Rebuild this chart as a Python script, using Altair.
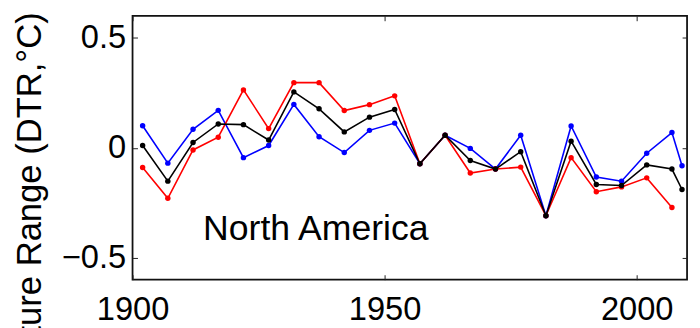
import altair as alt
import pandas as pd

years = [1902, 1907, 1912, 1917, 1922, 1927, 1932, 1937, 1942, 1947, 1952,
         1957, 1962, 1967, 1972, 1977, 1982, 1987, 1992, 1997, 2002, 2007]
years_ext = years + [2009]

blue = [0.10, -0.07, 0.084, 0.17, -0.045, 0.01, 0.197, 0.05, -0.022, 0.079, 0.112,
        -0.073, 0.057, -0.003, -0.097, 0.057, -0.309, 0.099, -0.133, -0.152, -0.025, 0.069, -0.082]
red = [-0.09, -0.23, -0.01, 0.048, 0.263, 0.087, 0.296, 0.296, 0.169, 0.196, 0.236,
       -0.073, 0.057, -0.115, -0.097, -0.088, -0.309, -0.045, -0.20, -0.178, -0.137, -0.272]
black = [0.01, -0.152, 0.024, 0.108, 0.105, 0.035, 0.254, 0.177, 0.072, 0.139, 0.174,
         -0.073, 0.057, -0.058, -0.097, -0.018, -0.309, 0.03, -0.167, -0.172, -0.078, -0.097, -0.19]

series_names = ["blue", "red", "black"]
series_colors = ["#0000ff", "#ff0000", "#000000"]

x_ticks = [1900, 1950, 2000]
y_ticks = [-0.5, 0, 0.5]
x_domain = [1900, 2010]
y_domain = [-0.6, 0.6]

y_title = "Diurnal Temperature Range (DTR,°C)"
region_label = "North America"
label_year = [1914]
label_value = [-0.37]

rows = []
for name, ys, vals in [("blue", years_ext, blue), ("red", years, red), ("black", years_ext, black)]:
    for yr, v in zip(ys, vals):
        rows.append({"series": name, "year": yr, "value": v})
df = pd.DataFrame(rows)

FONT = "Liberation Sans"
FS = 33

x_scale = alt.Scale(domain=x_domain, nice=False, zero=False)
y_scale = alt.Scale(domain=y_domain, nice=False, zero=False)

x_axis = alt.Axis(values=x_ticks, format="d", orient="bottom", offset=-5, tickSize=5,
                  domain=False, grid=False, labelFont=FONT, labelFontSize=FS,
                  labelColor="black", tickColor="#222222", labelPadding=14,
                  labelFlush=False, labelOverlap=False, title=None)
y_axis = alt.Axis(values=y_ticks, orient="left", offset=-5, tickSize=5,
                  domain=False, grid=False, labelFont=FONT, labelFontSize=FS,
                  labelColor="black", tickColor="#222222", labelPadding=7,
                  labelFlush=False, labelOverlap=False,
                  labelExpr="datum.value < 0 ? '\u2212' + format(-datum.value, '~g') : format(datum.value, '~g')",
                  title=y_title, titleFont=FONT, titleFontSize=35, titleFontWeight="normal",
                  titleAngle=270, titleAlign="right", titleBaseline="alphabetic",
                  titleX=-98, titleY=-4, titleColor="black")

x_axis_top = alt.Axis(values=x_ticks, orient="top", offset=-5, tickSize=5, domain=False,
                      grid=False, labels=False, tickColor="#222222", title=None)
y_axis_right = alt.Axis(values=y_ticks, orient="right", offset=-5, tickSize=5, domain=False,
                        grid=False, labels=False, tickColor="#222222", title=None)

layers = []
for name, color in zip(series_names, series_colors):
    sub = df[df.series == name]
    l = alt.Chart(sub).mark_line(strokeWidth=1.6, color=color).encode(
        x=alt.X("year:Q", scale=x_scale, axis=x_axis),
        y=alt.Y("value:Q", scale=y_scale, axis=y_axis),
        order=alt.Order("year:Q"),
    )
    p = alt.Chart(sub).mark_circle(size=30, opacity=1, color=color).encode(
        x=alt.X("year:Q", scale=x_scale),
        y=alt.Y("value:Q", scale=y_scale),
    )
    layers += [l, p]

label_df = pd.DataFrame({"year": label_year, "value": label_value, "text": [region_label]})
label = alt.Chart(label_df).mark_text(font=FONT, fontSize=36, align="left", baseline="middle",
                                      color="black").encode(
    x=alt.X("year:Q", scale=x_scale),
    y=alt.Y("value:Q", scale=y_scale),
    text="text:N",
)

tick_df = pd.DataFrame({"year": [x_domain[0]], "value": [y_domain[0]]})
frame_axes = alt.Chart(tick_df).mark_point(opacity=0).encode(
    x=alt.X("year:Q", scale=x_scale, axis=x_axis_top),
    y=alt.Y("value:Q", scale=y_scale, axis=y_axis_right),
)

main = alt.layer(*layers, label)
chart = alt.layer(main, frame_axes).resolve_axis(x="independent", y="independent").properties(
    width=561, height=267,
    background="white",
    autosize=alt.AutoSizeParams(type="none"),
    padding={"left": 126, "top": 6, "right": 5, "bottom": 47},
).configure_view(stroke="#111111", strokeWidth=1.8)

chart.save("out.html", embed_options={"renderer": "svg", "actions": False})
